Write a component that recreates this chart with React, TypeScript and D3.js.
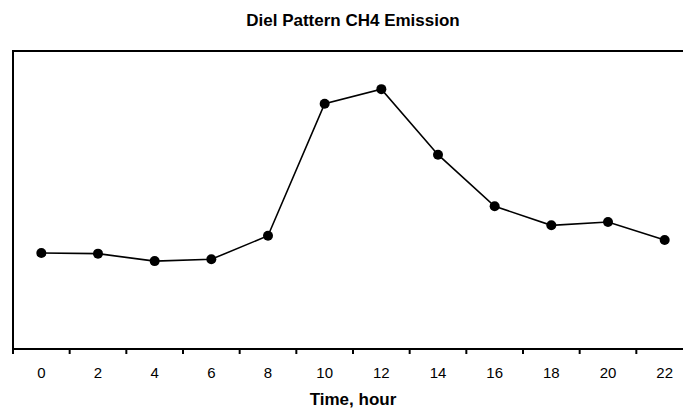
import React, { useEffect, useRef } from "react";
import * as d3 from "d3";

// hours of the day (x categories)
const hours = ["0", "2", "4", "6", "8", "10", "12", "14", "16", "18", "20", "22"];
// CH4 emission (no y labels shown, arbitrary units)
const emission = [3.22, 3.2, 2.95, 3.01, 3.8, 8.23, 8.72, 6.52, 4.79, 4.15, 4.26, 3.66];

const W = 683;
const H = 408;

const App = () => {
  const svgRef = useRef<SVGSVGElement>(null);

  useEffect(() => {
    const left = 13, top = 51, bottom = 349, right = 693;

    const svg = d3.select(svgRef.current);
    svg.selectAll("*").remove();

    const x = d3.scaleBand().domain(hours).range([left, right]).padding(0);
    const y = d3.scaleLinear().domain([0, 10]).range([bottom, top]);

    // title
    svg.append("text")
      .attr("x", 353)
      .attr("y", 26)
      .attr("text-anchor", "middle")
      .attr("font-weight", "bold")
      .attr("font-size", 17)
      .text("Diel Pattern CH4 Emission");

    // plot frame
    svg.append("rect")
      .attr("x", left)
      .attr("y", top)
      .attr("width", right - left)
      .attr("height", bottom - top)
      .attr("fill", "none")
      .attr("stroke", "#000")
      .attr("stroke-width", 2);

    // x ticks at category boundaries
    const edges = hours.map((h) => x(h) as number).concat([right]);
    svg.append("g")
      .selectAll("line")
      .data(edges)
      .join("line")
      .attr("x1", (d) => d)
      .attr("x2", (d) => d)
      .attr("y1", bottom)
      .attr("y2", bottom + 5)
      .attr("stroke", "#000")
      .attr("stroke-width", 2);

    // x labels
    svg.append("g")
      .selectAll("text")
      .data(hours)
      .join("text")
      .attr("x", (d) => (x(d) as number) + x.bandwidth() / 2)
      .attr("y", 378)
      .attr("text-anchor", "middle")
      .attr("font-size", 15)
      .text((d) => d);

    // axis title
    svg.append("text")
      .attr("x", 353)
      .attr("y", 405)
      .attr("text-anchor", "middle")
      .attr("font-weight", "bold")
      .attr("font-size", 17)
      .text("Time, hour");

    const pts = hours.map((h, i) => ({ h, v: emission[i] }));
    const line = d3.line<{ h: string; v: number }>()
      .x((d) => (x(d.h) as number) + x.bandwidth() / 2)
      .y((d) => y(d.v));

    svg.append("path")
      .datum(pts)
      .attr("d", line)
      .attr("fill", "none")
      .attr("stroke", "#000")
      .attr("stroke-width", 1.6);

    svg.append("g")
      .selectAll("circle")
      .data(pts)
      .join("circle")
      .attr("cx", (d) => (x(d.h) as number) + x.bandwidth() / 2)
      .attr("cy", (d) => y(d.v))
      .attr("r", 5)
      .attr("fill", "#000");
  }, []);

  return (
    <svg
      ref={svgRef}
      width={W}
      height={H}
      style={{
        position: "absolute",
        left: 0,
        top: 0,
        fontFamily: "'Liberation Sans', Arial, sans-serif",
        background: "#fff",
      }}
    />
  );
};

export default App;
